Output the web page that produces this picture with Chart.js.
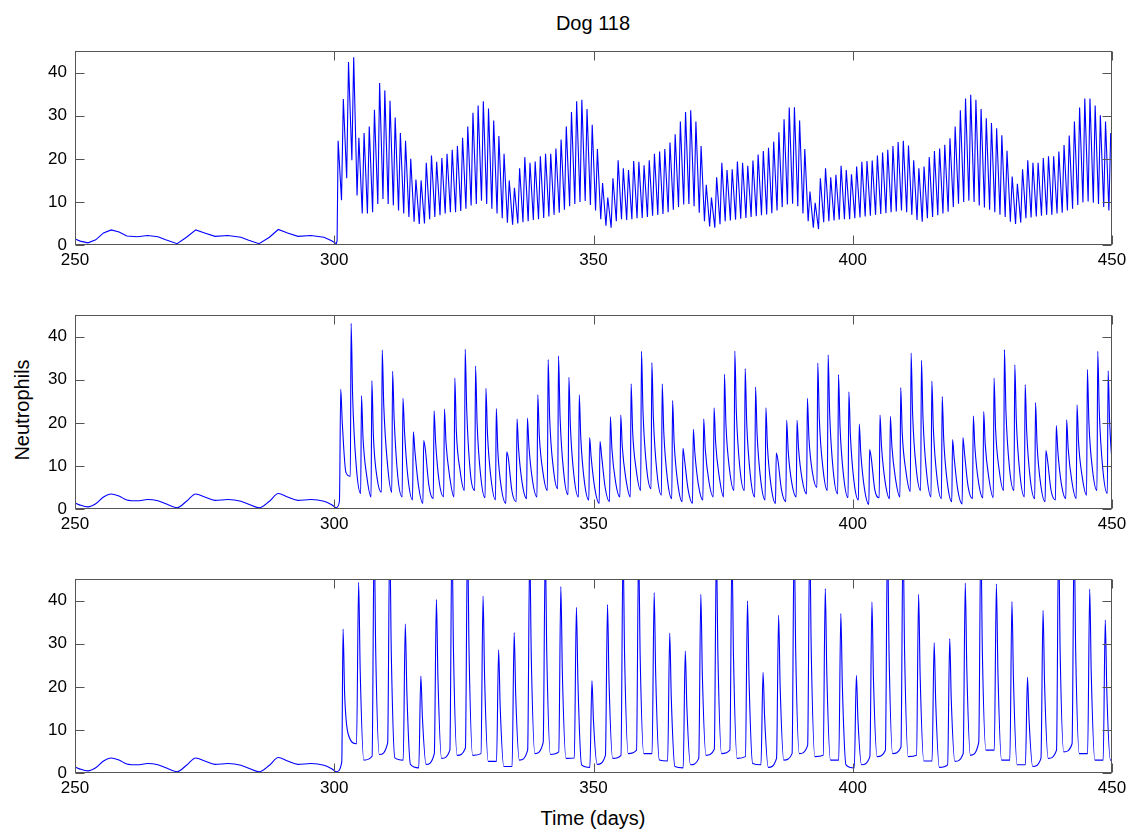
<!DOCTYPE html>
<html>
<head>
<meta charset="utf-8">
<script src="https://cdn.jsdelivr.net/npm/chart.js@4.4.1/dist/chart.umd.min.js"></script>
<style>
  body { margin: 0; background: #fff; width: 1132px; height: 833px; position: relative; overflow: hidden;
         font-family: "Liberation Sans", Arial, sans-serif; }
  canvas { position: absolute; left: 0; }
  .lbl { position: absolute; color: #000; white-space: nowrap; line-height: 1; }
</style>
</head>
<body>
<div class="lbl" id="title" style="left:593px; top:13px; font-size:20px; transform:translateX(-50%)">Dog 118</div>
<div class="lbl" id="ylab" style="left:22px; top:410px; font-size:20px; transform:translate(-50%,-50%) rotate(-90deg)">Neutrophils</div>
<div class="lbl" id="xlab" style="left:593px; top:808px; font-size:20px; transform:translateX(-50%)">Time (days)</div>
<canvas id="top" width="1132" height="248" style="top:33px"></canvas>
<canvas id="mid" width="1132" height="248" style="top:297px"></canvas>
<canvas id="bot" width="1132" height="248" style="top:561px"></canvas>
<script>
// stretch before day 300, same in all three panels
const baseDay = [250, 251, 252.5, 254, 255.5, 257, 258.5, 260, 262, 264, 266, 267.5, 269.7, 271.5, 273.3, 275, 277, 279.5, 282, 283.5, 285.5, 287.5, 289.2, 291, 293, 295.5, 298, 299.5, 300.4];
const baseVal = [1.4, 0.9, 0.5, 1.2, 2.8, 3.5, 3.0, 2.1, 1.9, 2.2, 1.9, 1.2, 0.3, 1.8, 3.5, 2.8, 2.0, 2.2, 1.8, 1.1, 0.3, 1.8, 3.6, 2.8, 2.0, 2.2, 1.8, 1.0, 0.3];

// first lift off the baseline, one point per panel (top, middle, bottom)
const onsetDay = [300.55, 301.0, 301.45];
const onsetVal = [1.0, 1.8, 2.6];

// top panel: daily spikes
const topPeakDay = [
  300.75,301.75,302.75,303.75,304.75,305.75,306.75,307.75,308.75,309.75,
  310.75,311.75,312.75,313.75,314.75,315.75,316.75,317.75,318.75,319.75,
  320.75,321.75,322.75,323.75,324.75,325.75,326.75,327.75,328.75,329.75,
  330.75,331.75,332.75,333.75,334.75,335.75,336.75,337.75,338.75,339.75,
  340.75,341.75,342.75,343.75,344.75,345.75,346.75,347.75,348.75,349.75,
  350.75,351.75,352.75,353.75,354.75,355.75,356.75,357.75,358.75,359.75,
  360.75,361.75,362.75,363.75,364.75,365.75,366.75,367.75,368.75,369.75,
  370.75,371.75,372.75,373.75,374.75,375.75,376.75,377.75,378.75,379.75,
  380.75,381.75,382.75,383.75,384.75,385.75,386.75,387.75,388.75,389.75,
  390.75,391.75,392.75,393.75,394.75,395.75,396.75,397.75,398.75,399.75,
  400.75,401.75,402.75,403.75,404.75,405.75,406.75,407.75,408.75,409.75,
  410.75,411.75,412.75,413.75,414.75,415.75,416.75,417.75,418.75,419.75,
  420.75,421.75,422.75,423.75,424.75,425.75,426.75,427.75,428.75,429.75,
  430.75,431.75,432.75,433.75,434.75,435.75,436.75,437.75,438.75,439.75,
  440.75,441.75,442.75,443.75,444.75,445.75,446.75,447.75,448.75,449.75
];
const topPeak = [
  24.2,33.9,42.5,43.6,24.9,26.0,27.5,31.4,37.6,35.9,
  33.5,29.6,26.0,24.2,20.0,15.2,15.0,19.1,20.8,19.3,
  20.2,21.2,22.1,23.0,24.9,27.5,30.7,32.4,33.4,31.7,
  28.9,25.3,21.2,15.0,13.3,17.8,20.4,19.1,19.4,20.6,
  21.2,21.2,22.4,24.5,27.5,30.9,33.4,33.7,31.6,27.9,
  22.3,14.4,11.0,15.5,19.7,17.8,17.4,19.5,19.3,18.5,
  19.7,21.2,21.7,22.3,23.8,25.7,28.7,30.9,31.3,28.7,
  23.0,14.0,11.0,15.7,19.1,17.4,17.6,19.4,19.1,18.4,
  19.6,21.0,21.8,22.6,24.0,26.2,29.2,31.9,32.0,28.9,
  22.3,12.4,9.8,15.5,17.8,15.7,16.3,18.4,17.4,16.4,
  18.2,19.3,19.5,19.6,20.8,21.5,22.1,23.0,23.9,24.2,
  23.1,19.7,17.8,18.2,20.4,21.8,22.4,23.3,24.8,27.5,
  31.3,34.0,34.9,33.7,31.6,29.4,28.3,27.1,25.5,21.9,
  15.9,14.2,17.6,19.7,19.1,19.1,20.2,20.6,20.6,21.7,
  23.2,25.4,28.7,31.9,34.0,34.0,32.4,30.1,28.7,26.0
];
// trough that follows each top peak
const topLow = [
  10.4,15.5,19.7,11.5,7.3,7.3,7.6,9.5,10.7,9.5,
  9.2,8.0,7.3,6.5,5.4,4.9,5.0,6.0,6.5,6.9,
  7.3,7.6,7.6,7.9,8.4,9.2,9.5,10.3,9.5,8.4,
  7.3,6.2,5.2,4.7,5.0,5.3,5.5,5.8,6.0,6.3,
  6.6,7.0,7.5,8.2,9.0,9.5,10.0,10.2,9.3,8.0,
  6.0,4.5,4.0,5.5,6.0,5.8,6.0,6.2,6.3,6.5,
  6.8,7.0,7.2,7.6,8.2,8.8,9.4,9.5,9.0,7.5,
  5.5,4.3,4.0,4.8,5.5,5.7,5.9,6.1,6.3,6.5,
  6.7,6.9,7.1,7.4,8.0,8.8,9.4,9.6,9.0,7.3,
  5.5,4.0,3.7,5.3,5.5,5.7,5.9,6.0,6.0,6.2,
  6.4,6.6,6.8,7.0,7.2,7.4,7.6,7.8,8.0,7.6,
  7.0,5.8,5.4,6.2,6.5,6.9,7.3,7.7,8.8,9.6,
  10.0,10.3,10.0,9.2,8.7,8.2,7.6,7.0,6.5,5.4,
  4.9,5.2,6.2,6.4,6.6,6.8,7.0,7.0,7.3,7.5,
  8.0,8.4,9.3,9.9,10.1,9.8,9.5,8.8,8.0
];
const topPhase = [0, 0.65];   // days after each peak at which the values were read

// middle panel: spikes every 2 days
const midPeakDay = [
  301.25,303.25,305.25,307.25,309.25,311.25,313.25,315.25,317.25,319.25,
  321.25,323.25,325.25,327.25,329.25,331.25,333.25,335.25,337.25,339.25,
  341.25,343.25,345.25,347.25,349.25,351.25,353.25,355.25,357.25,359.25,
  361.25,363.25,365.25,367.25,369.25,371.25,373.25,375.25,377.25,379.25,
  381.25,383.25,385.25,387.25,389.25,391.25,393.25,395.25,397.25,399.25,
  401.25,403.25,405.25,407.25,409.25,411.25,413.25,415.25,417.25,419.25,
  421.25,423.25,425.25,427.25,429.25,431.25,433.25,435.25,437.25,439.25,
  441.25,443.25,445.25,447.25,449.25
];
const midPeak = [
  27.8,43.1,26.3,29.8,36.9,32.0,25.7,17.9,15.9,22.8,
  23.2,30.4,37.1,33.2,28.0,23.3,13.2,20.9,21.1,26.5,
  34.7,35.5,30.6,26.5,16.6,15.7,21.4,21.8,29.1,36.6,
  34.0,29.1,25.2,14.1,18.5,20.9,23.5,31.3,36.7,32.6,
  28.3,23.5,13.0,20.6,20.6,25.7,33.9,35.8,31.2,27.2,
  19.7,13.8,21.8,21.5,28.2,36.2,34.5,29.7,26.1,16.1,
  16.6,21.6,22.6,30.4,37.0,33.5,28.9,24.7,13.6,19.4,
  20.7,24.2,32.4,36.6,32.1
];
const midFall = [
  20,26,16.5,17,24,21,18,13.5,14,15.5,
  15.5,18,23,20,17.5,13.5,12,14,14.5,17,
  21,21.5,19,16.5,12,12.5,14,14.5,18,22.5,
  21,18,15.5,11.5,13,14,15.5,19.5,22.5,20,
  17.5,14.5,11.5,13.5,14,16.5,21,22,19,17,
  13,12,14.5,14.5,17.5,22,21,18.5,16,12,
  13,14.5,15,18.5,22.5,20.5,18,15,11.5,13.5,
  14,15.5,20,22.5,20
];
const midShoulder = [
  8.5,9.9,7.8,7.3,10.6,7.6,6.9,5.4,5.5,6.2,
  7.6,9.1,8.4,7.6,6.9,4.7,4.3,6.0,6.5,8.5,
  9.5,8.5,7.5,6.3,4.8,5.0,6.3,7.0,9.0,9.5,
  8.3,7.0,6.0,4.5,5.5,6.5,7.5,9.0,9.3,7.8,
  6.7,5.3,4.5,6.0,6.8,8.3,9.5,8.7,7.5,6.3,
  4.8,4.5,6.3,7.0,8.8,9.3,8.3,7.2,6.0,4.5,
  5.2,6.3,7.2,9.0,9.3,8.0,6.8,5.7,4.3,5.7,
  6.5,7.5,9.0,9.0,8.0
];
const midLow = [
  7.6,3.6,2.8,3.9,3.9,2.8,2.1,1.3,2.4,2.8,
  2.8,4.3,4.3,2.6,2.1,1.3,1.7,2.4,2.8,4.3,
  4.7,3.3,2.8,2.1,1.3,1.7,2.8,2.8,4.3,4.7,
  3.2,2.4,1.7,1.3,2.1,2.8,2.8,4.3,4.3,2.8,
  2.1,1.3,1.7,2.8,3.5,5.0,4.3,3.5,2.6,2.1,
  1.1,2.6,2.4,2.8,4.1,4.3,2.8,2.4,1.7,1.2,
  2.4,2.6,2.6,4.3,4.3,2.8,2.4,1.7,2.1,2.4,
  2.4,3.2,4.3,3.6,3.0
];
const midPhase = [0, 0.3, 1.0, 1.85];

// bottom panel: spikes every 3 days (tall ones run off the top of the axes)
const botPeakDay = [
  301.7,304.7,307.7,310.7,313.7,316.7,319.7,322.7,325.7,328.7,
  331.7,334.7,337.7,340.7,343.7,346.7,349.7,352.7,355.7,358.7,
  361.7,364.7,367.7,370.7,373.7,376.7,379.7,382.7,385.7,388.7,
  391.7,394.7,397.7,400.7,403.7,406.7,409.7,412.7,415.7,418.7,
  421.7,424.7,427.7,430.7,433.7,436.7,439.7,442.7,445.7,448.7
];
const botPeak = [
  33.4,44.3,55,55,34.6,22.5,40.3,55,55,41.1,
  28.6,32.6,52,52,43.3,38.5,21.4,39.1,52,52,
  41.9,32.5,28.3,41.5,52,52,40.0,23.4,36.6,55,
  55,42.8,37.0,22.7,39.7,55,55,41.5,30.3,31.2,
  44.1,55,43.9,39.8,22.2,37.8,55,55,42.7,35.5
];
const botFall = [
  18.4,24,28,28,19,13,22,28,28,22,
  15.5,18,27,27,23,21,12,21,27,27,
  22.5,17.5,15.5,22.5,27,27,21.5,13,20,28,
  28,23,20,12.5,21.5,28,28,22.5,16.5,17,
  24,28,23.5,21.5,12.5,20.5,28,28,23,19
];
const botFloor = [
  9.0,3.0,4.3,3.5,2.0,2.0,3.4,4.1,4.1,2.7,
  1.5,3.0,4.5,4.3,3.4,1.9,2.0,3.4,4.5,4.5,
  3.0,1.5,1.9,4.1,4.5,3.4,2.2,1.3,3.0,4.5,
  3.8,3.0,1.9,1.9,3.8,4.5,3.8,2.8,1.3,2.7,
  4.1,5.3,3.0,1.9,1.5,3.4,4.9,4.5,3.0,3.0
];
const botRise = [
  6.8,3.9,7.0,3.0,1.2,4.5,5.3,5.8,4.5,2.7,
  1.5,5.3,7.1,4.9,3.5,1.3,4.1,4.1,5.3,4.5,
  2.8,1.2,3.4,5.5,5.3,3.8,1.9,3.4,4.5,6.4,
  4.1,3.0,1.2,3.8,5.3,6.0,4.1,2.8,1.9,4.5,
  7.1,5.3,3.0,1.9,3.4,5.3,6.8,4.5,3.0,3.0
];
const botPhase = [0, 0.3, 1.0, 2.6];

const xTicks = [250, 300, 350, 400, 450];
const yTicks = [0, 10, 20, 30, 40];

const FONT = "'Liberation Sans', Arial, sans-serif";

function buildSeries(panel, peakDay, phase, cols) {
  const pts = baseDay.map((d, i) => ({ x: d, y: baseVal[i] }));
  pts.push({ x: onsetDay[panel], y: onsetVal[panel] });
  peakDay.forEach((d, i) => {
    phase.forEach((p, k) => {
      const v = cols[k][i];
      if (v !== undefined) pts.push({ x: d + p, y: v });
    });
  });
  return pts;
}

// box round the axes with inward tick marks on all four sides
const frame = {
  id: "frame",
  afterDatasetsDraw(chart) {
    const { ctx, chartArea: a, scales } = chart;
    const L = Math.round(a.left) + 0.5, R = Math.round(a.right) - 0.5;
    const T = Math.round(a.top) + 0.5, B = Math.round(a.bottom) - 0.5;
    ctx.save();
    ctx.strokeStyle = "#555";
    ctx.lineWidth = 1;
    ctx.strokeRect(L, T, R - L, B - T);
    ctx.beginPath();
    xTicks.forEach(v => {
      const px = Math.round(scales.x.getPixelForValue(v)) + 0.5;
      ctx.moveTo(px, B); ctx.lineTo(px, B - 9);
      ctx.moveTo(px, T); ctx.lineTo(px, T + 9);
    });
    yTicks.forEach(v => {
      const py = Math.round(scales.y.getPixelForValue(v)) + 0.5;
      ctx.moveTo(L, py); ctx.lineTo(L + 9, py);
      ctx.moveTo(R, py); ctx.lineTo(R - 9, py);
    });
    ctx.stroke();
    ctx.restore();
  }
};

function makePanel(id, pts, smooth) {
  return new Chart(document.getElementById(id), {
    type: "line",
    data: {
      datasets: [{
        data: pts,
        borderColor: "#0000ff",
        borderWidth: 1.1,
        pointRadius: 0,
        fill: false,
        tension: 0,
        cubicInterpolationMode: smooth ? "monotone" : "default"
      }]
    },
    options: {
      responsive: false,
      animation: false,
      parsing: false,
      events: [],
      layout: { padding: { top: 12, right: 20, left: 0, bottom: 0 } },
      plugins: { legend: { display: false }, tooltip: { enabled: false } },
      scales: {
        x: {
          type: "linear", min: 250, max: 450,
          grid: { display: false, drawTicks: false },
          border: { display: false },
          afterBuildTicks: s => { s.ticks = xTicks.map(v => ({ value: v })); },
          ticks: { padding: 5, color: "#000", maxRotation: 0, font: { family: FONT, size: 17 } },
          afterFit: s => { s.height = 36; }
        },
        y: {
          min: 0, max: 45,
          grid: { display: false, drawTicks: false },
          border: { display: false },
          afterBuildTicks: s => { s.ticks = yTicks.map(v => ({ value: v })); },
          ticks: { padding: 8, color: "#000", font: { family: FONT, size: 17 } },
          afterFit: s => { s.width = 75; }
        }
      }
    },
    plugins: [frame]
  });
}

makePanel("top", buildSeries(0, topPeakDay, topPhase, [topPeak, topLow]), false);
makePanel("mid", buildSeries(1, midPeakDay, midPhase, [midPeak, midFall, midShoulder, midLow]), true);
makePanel("bot", buildSeries(2, botPeakDay, botPhase, [botPeak, botFall, botFloor, botRise]), true);
</script>
</body>
</html>
